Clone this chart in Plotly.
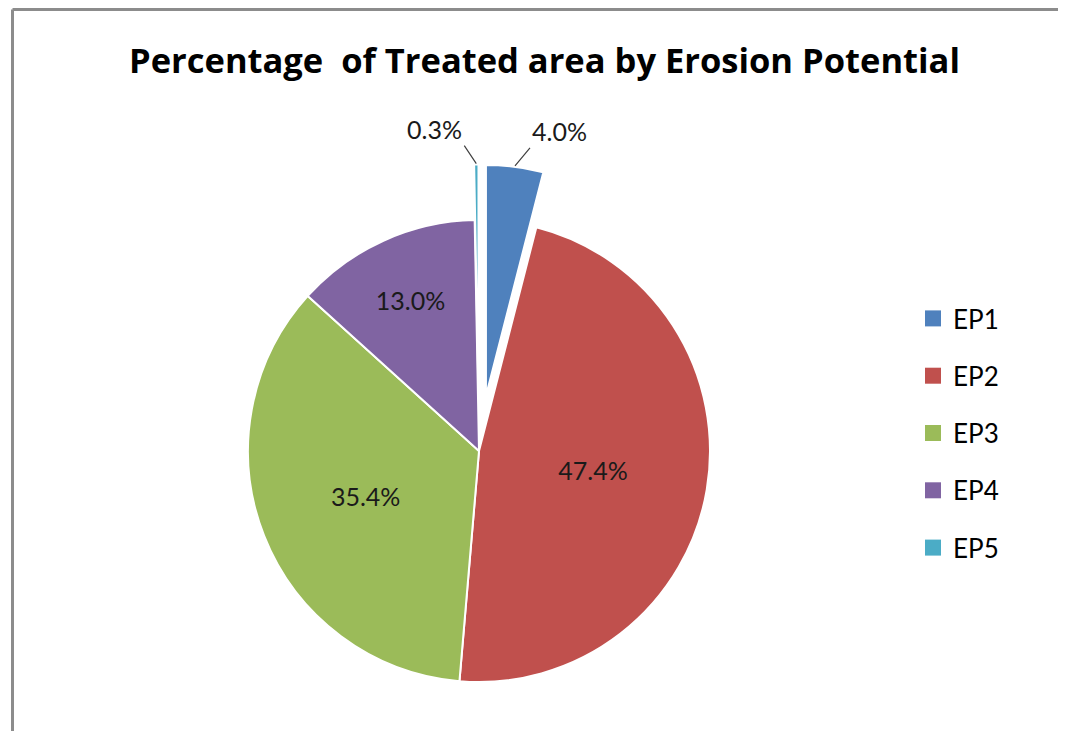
import math
import plotly.graph_objects as go

W, H = 1066, 731

labels = ["EP1", "EP2", "EP3", "EP4", "EP5"]
shares = [4.0, 47.4, 35.4, 13.0, 0.3]
colors = ["#4F81BD", "#C0504D", "#9BBB59", "#8064A2", "#4BACC6"]
pulls = [0.24, 0, 0, 0, 0.24]
# slices whose value sits outside with a leader line, and where that label goes
leader = {0: dict(ax=15, ay=-18, xanchor="left"), 4: dict(ax=-12, ay=-18, xanchor="right")}

FONT = "Lato"
TXT = "#1a1a1a"

# pie geometry in pixels (page renders with an 8px body offset, so shift by -8)
CX, CY, R = 471, 443, 231
half = R * (1 + max(pulls))

fig = go.Figure()

fig.add_trace(go.Pie(
    labels=labels, values=shares, sort=False, direction="clockwise", rotation=0,
    pull=pulls, marker=dict(colors=colors, line=dict(color="white", width=2)),
    texttemplate="%{value:.1f}%",
    textposition=["none" if i in leader else "inside" for i in range(len(labels))],
    insidetextorientation="horizontal",
    textfont=dict(family=FONT, size=25, color=TXT),
    domain=dict(x=[(CX - half) / W, (CX + half) / W],
                y=[(H - CY - half) / H, (H - CY + half) / H]),
    showlegend=False, hoverinfo="label+percent",
))

# outside labels for the two exploded slivers
total = sum(shares)
cum = 0.0
for i, v in enumerate(shares):
    mid = math.radians((cum + v / 2) / total * 360)
    cum += v
    if i not in leader:
        continue
    d = R * (1 + pulls[i]) + 1
    px, py = CX + d * math.sin(mid), CY - d * math.cos(mid)
    fig.add_annotation(
        x=px / W, y=1 - py / H, xref="paper", yref="paper",
        text=f"{v:.1f}%", showarrow=True, arrowhead=0, arrowwidth=1.2,
        arrowcolor="#404040", standoff=0, yanchor="bottom",
        font=dict(family=FONT, size=25, color=TXT), **leader[i],
    )

# legend entries, one group each so the spacing can be opened up
for lab, col in zip(labels, colors):
    fig.add_trace(go.Scatter(
        x=[None], y=[None], mode="markers", name=lab, legendgroup=lab,
        marker=dict(symbol="square", size=17, color=col),
    ))

# chart-area frame: only the left and top edges show in the reference
bx, by = 4.5 / W, 1 - 1.5 / H
frame = dict(color="#8c8c8c", width=3)
fig.add_shape(type="line", xref="paper", yref="paper", x0=bx, x1=bx, y0=0, y1=by, line=frame)
fig.add_shape(type="line", xref="paper", yref="paper", x0=bx, x1=1, y0=by, y1=by, line=frame)

fig.update_layout(
    width=W, height=H, margin=dict(l=0, r=0, t=0, b=0, autoexpand=False),
    paper_bgcolor="white", plot_bgcolor="white",
    title=dict(text="<b>Percentage  of Treated area by Erosion Potential</b>",
               x=536.5 / W, xanchor="center", y=1 - 53 / H, yanchor="middle",
               font=dict(family="Open Sans", size=34.5, color="black")),
    xaxis=dict(visible=False), yaxis=dict(visible=False),
    legend=dict(x=905 / W, xanchor="left", y=1 - 287 / H, yanchor="top",
                font=dict(family=FONT, size=26, color="black"),
                tracegroupgap=20.5, itemsizing="trace"),
)

fig.write_html("out.html")
